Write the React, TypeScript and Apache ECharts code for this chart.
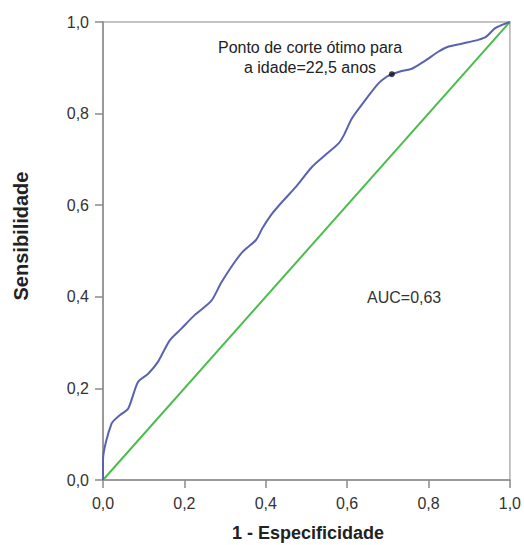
import React, { useEffect, useRef } from "react";
import * as echarts from "echarts";

const fpr = [0, 0, 0.021, 0.042, 0.062, 0.086, 0.111, 0.135, 0.164, 0.192, 0.225, 0.266, 0.29, 0.319, 0.343, 0.376, 0.392, 0.416, 0.441, 0.474, 0.514, 0.547, 0.579, 0.592, 0.612, 0.645, 0.677, 0.698, 0.71, 0.734, 0.759, 0.791, 0.824, 0.848, 0.889, 0.922, 0.942, 0.963, 0.979, 1];
const tpr = [0, 0.044, 0.123, 0.142, 0.156, 0.214, 0.232, 0.258, 0.305, 0.33, 0.36, 0.391, 0.43, 0.47, 0.498, 0.524, 0.55, 0.582, 0.608, 0.64, 0.684, 0.71, 0.735, 0.753, 0.79, 0.83, 0.866, 0.881, 0.886, 0.893, 0.898, 0.915, 0.935, 0.946, 0.954, 0.961, 0.968, 0.986, 0.993, 1];
const reference = [[0, 0], [1, 1]];
const cutPoint = [0.71, 0.886];
const cutLabel = ["Ponto de corte ótimo para", "a idade=22,5 anos"];
const aucLabel = "AUC=0,63";
const xTitle = "1 - Especificidade";
const yTitle = "Sensibilidade";

const fmt = (v: number) => v.toFixed(1).replace(".", ",");

export default function App() {
  const ref = useRef<HTMLDivElement>(null);
  useEffect(() => {
    document.body.style.margin = "0";
    const chart = echarts.init(ref.current!, null, { renderer: "svg" });
    const font = "'Liberation Sans', Arial, sans-serif";
    const axisCommon = {
      type: "value" as const,
      min: 0,
      max: 1,
      interval: 0.2,
      axisLine: { show: true, lineStyle: { color: "#9a9a9a", width: 2 } },
      axisTick: { show: true, length: 8, lineStyle: { color: "#8a8a8a", width: 1.5 } },
      splitLine: { show: false },
      axisLabel: { color: "#333", fontSize: 16, fontFamily: font, formatter: fmt },
    };
    chart.setOption({
      animation: false,
      backgroundColor: "#fff",
      grid: {
        left: 103, right: 12, top: 22, bottom: 65,
        show: true, borderColor: "#b0b0b0", borderWidth: 1.5,
      },
      xAxis: { ...axisCommon, axisLabel: { ...axisCommon.axisLabel, margin: 15 } },
      yAxis: { ...axisCommon, axisLabel: { ...axisCommon.axisLabel, margin: 14 } },
      series: [
        {
          type: "line",
          data: reference,
          showSymbol: false,
          lineStyle: { color: "#4cbd4c", width: 2 },
          z: 2,
        },
        {
          type: "line",
          data: fpr.map((x, i) => [x, tpr[i]]),
          showSymbol: false,
          smooth: 0.25,
          lineStyle: { color: "#5a62b0", width: 2 },
          z: 3,
        },
        {
          type: "scatter",
          data: [cutPoint],
          symbolSize: 6,
          itemStyle: { color: "#111" },
          z: 4,
        },
      ],
      graphic: [
        {
          type: "text",
          x: 310,
          y: 47,
          style: { text: cutLabel[0], fill: "#222", fontSize: 16, fontFamily: font, align: "center", verticalAlign: "middle" },
        },
        {
          type: "text",
          x: 310,
          y: 67,
          style: { text: cutLabel[1], fill: "#222", fontSize: 16, fontFamily: font, align: "center", verticalAlign: "middle" },
        },
        {
          type: "text",
          x: 367,
          y: 297,
          style: { text: aucLabel, fill: "#333", fontSize: 16, fontFamily: font, align: "left", verticalAlign: "middle" },
        },
        {
          type: "text",
          x: 308,
          y: 533,
          style: { text: xTitle, fill: "#222", fontSize: 18, fontWeight: "bold", fontFamily: font, align: "center", verticalAlign: "middle" },
        },
        {
          type: "text",
          x: 21,
          y: 236,
          rotation: Math.PI / 2,
          style: { text: yTitle, fill: "#222", fontSize: 20, fontWeight: "bold", fontFamily: font, align: "center", verticalAlign: "middle" },
        },
      ],
    });
    return () => chart.dispose();
  }, []);
  return <div ref={ref} style={{ width: 524, height: 545 }} />;
}
